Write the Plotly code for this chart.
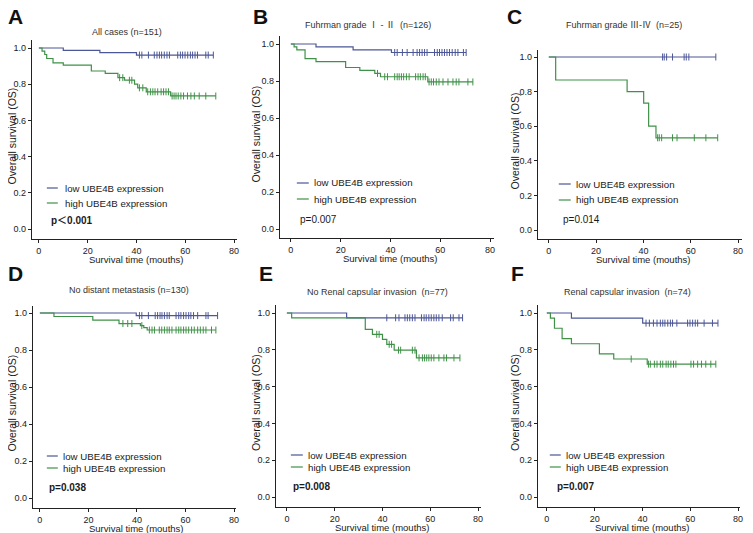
import numpy as np
import plotly.graph_objects as go

# The page body adds an 8px margin; the figure is sized and positioned to compensate.
OFF = 8
W, H = 753 - OFF, 533 - OFF

# ---------------- data ----------------
panel_letters = ["A", "B", "C", "D", "E", "F"]
panel_titles = [
    "All cases (n=151)",
    "Fuhrman grade \u2160 - \u2161\u00a0\u00a0(n=126)",
    "Fuhrman grade \u2162-\u2163\u00a0\u00a0(n=25)",
    "No distant metastasis (n=130)",
    "No Renal capsular invasion\u00a0\u00a0(n=77)",
    "Renal capsular invasion\u00a0\u00a0(n=74)",
]
p_texts = ["p\uff1c0.001", "p=0.007", "p=0.014", "p=0.038", "p=0.008", "p=0.007"]
p_bold = [True, False, False, True, True, True]
legend_labels = ["low UBE4B expression", "high UBE4B expression"]
x_ticks = [0, 20, 40, 60, 80]
y_ticks = [0.0, 0.2, 0.4, 0.6, 0.8, 1.0]
x_title = "Survival time (mouths)"
y_title = "Overall survival (OS)"

# Panel A
low_t_A = [0, 10, 25, 40]
low_s_A = [1.0, 0.987, 0.974, 0.961]
low_c_A = [41.2, 42.2, 44.9, 47.3, 48.4, 49.4, 50.3, 51.4, 52.5, 53.5, 56.9, 58.0, 58.9,
           59.9, 61.0, 62.1, 63.0, 64.0, 65.0, 68.4, 69.4, 71.5]
high_t_A = [0, 1.3, 2.4, 3.2, 5.8, 10, 21.5, 27.2, 32.4, 35.1, 39.2, 40.5, 44.0, 54.0]
high_s_A = [1.0, 0.983, 0.964, 0.942, 0.918, 0.905, 0.873, 0.860, 0.836, 0.822, 0.800,
            0.780, 0.758, 0.735]
high_c_A = [33.1, 34.4, 37.1, 38.1, 41.2, 42.6, 44.6, 45.7, 46.7, 47.6, 48.7, 50.1, 51.1,
            52.1, 53.1, 54.6, 55.4, 56.2, 57.1, 58.2, 59.3, 60.9, 62.3, 63.7, 65.7, 68.4, 72.5]

# Panel B
low_t_B = [0, 10.1, 25, 40.4]
low_s_B = [1.0, 0.984, 0.968, 0.954]
low_c_B = [41.7, 42.7, 44.8, 46.7, 49.1, 50.7, 51.7, 52.7, 53.7, 54.7, 57.7, 58.8, 59.7,
           60.7, 61.7, 62.7, 63.7, 64.8, 66.0, 67.1, 69.3, 70.4]
high_t_B = [0, 1.3, 2.4, 5.7, 10.1, 22.0, 27.7, 33.7, 36.0, 55.0]
high_s_B = [1.0, 0.984, 0.968, 0.921, 0.905, 0.873, 0.857, 0.841, 0.823, 0.795]
high_c_B = [34.8, 37.7, 38.8, 41.7, 42.7, 43.5, 44.4, 45.3, 46.4, 47.5, 50.1, 51.1, 52.0,
            53.1, 54.0, 55.5, 56.4, 57.3, 58.4, 59.5, 61.1, 63.1, 65.1, 66.4, 67.5, 71.1, 73.1]

# Panel C
low_t_C = [0]
low_s_C = [1.0]
low_c_C = [48.1, 48.8, 49.8, 52.3, 57.2, 58.1, 59.2, 70.6]
high_t_C = [0, 2.9, 33.1, 40.1, 42.2, 45.3]
high_s_C = [1.0, 0.867, 0.800, 0.733, 0.600, 0.533]
high_c_C = [46.0, 46.7, 47.7, 52.3, 54.2, 61.5, 66.4, 71.4]

# Panel D
low_t_D = [0, 39.7]
low_s_D = [1.0, 0.986]
low_c_D = [41.0, 42.0, 44.7, 47.5, 48.5, 49.5, 50.3, 51.3, 52.4, 53.3, 56.1, 57.2, 58.1,
           59.2, 60.2, 61.3, 62.2, 63.3, 65.0, 68.4, 69.3, 73.2]
high_t_D = [0, 5.8, 21.8, 32.6, 41.4, 42.8, 44.2]
high_s_D = [1.0, 0.981, 0.962, 0.943, 0.932, 0.921, 0.908]
high_c_D = [34.2, 36.2, 37.9, 42.0, 45.1, 46.2, 47.2, 49.2, 50.2, 51.3, 52.4, 53.3, 54.4,
            56.1, 57.2, 58.1, 59.2, 60.2, 61.3, 62.5, 63.6, 65.0, 66.1, 67.3, 68.4, 70.7, 72.5]

# Panel E
low_t_E = [0, 25]
low_s_E = [1.0, 0.974]
low_c_E = [41.8, 45.5, 46.9, 49.4, 50.4, 51.4, 52.5, 53.6, 56.3, 57.4, 58.3, 59.4, 60.4,
           61.5, 62.5, 63.6, 65.0, 68.5, 69.6, 72.0, 73.5]
high_t_E = [0, 2.0, 32.8, 35.8, 40.0, 41.8, 44.9, 54.2]
high_s_E = [1.0, 0.974, 0.911, 0.884, 0.857, 0.830, 0.798, 0.756]
high_c_E = [37.6, 38.6, 42.8, 43.8, 46.7, 47.6, 52.5, 53.6, 55.3, 56.7, 57.6, 58.5, 59.4,
            60.4, 61.5, 63.6, 65.7, 66.8, 69.9, 72.4]

# Panel F
low_t_F = [0, 10.3, 40.1]
low_s_F = [1.0, 0.972, 0.945]
low_c_F = [41.5, 42.9, 44.6, 46.1, 47.5, 48.5, 49.4, 50.6, 51.7, 52.6, 54.4, 58.9, 59.9,
           61.0, 62.1, 63.1, 65.8, 69.3, 71.6]
high_t_F = [0, 1.5, 3.2, 6.4, 10.3, 22.0, 28.0, 42.0]
high_s_F = [1.0, 0.972, 0.917, 0.861, 0.833, 0.778, 0.750, 0.722]
high_c_F = [35.3, 42.5, 43.3, 45.0, 46.1, 47.5, 48.5, 49.9, 50.8, 51.9, 53.0, 54.0, 60.3,
            61.4, 63.1, 64.7, 66.5, 68.6, 70.7]

low_times = [low_t_A, low_t_B, low_t_C, low_t_D, low_t_E, low_t_F]
low_survs = [low_s_A, low_s_B, low_s_C, low_s_D, low_s_E, low_s_F]
low_cens = [low_c_A, low_c_B, low_c_C, low_c_D, low_c_E, low_c_F]
high_times = [high_t_A, high_t_B, high_t_C, high_t_D, high_t_E, high_t_F]
high_survs = [high_s_A, high_s_B, high_s_C, high_s_D, high_s_E, high_s_F]
high_cens = [high_c_A, high_c_B, high_c_C, high_c_D, high_c_E, high_c_F]

# ---------------- layout geometry (screen pixels) ----------------
geo = [
    dict(l=32, r=238, t=40, b=239, x0=39, x80=235, y1=48, y0=229),
    dict(l=281, r=496, t=36, b=238, x0=292, x80=492, y1=44, y0=229),
    dict(l=540, r=745, t=50, b=239, x0=551, x80=741, y1=57, y0=230),
    dict(l=33, r=237, t=306, b=508, x0=40, x80=235, y1=313, y0=498),
    dict(l=277, r=483, t=305, b=507, x0=288, x80=480, y1=313, y0=497),
    dict(l=540, r=743, t=305, b=507, x0=549, x80=741, y1=313, y0=497),
]
legend_pos = [
    dict(lx0=47, lx1=58, tx=63, y1=188, y2=203, px=49, py=220),
    dict(lx0=298, lx1=310, tx=313, y1=183, y2=199, px=299, py=219),
    dict(lx0=561, lx1=573, tx=576, y1=184, y2=200, px=563, py=219),
    dict(lx0=47, lx1=58, tx=61, y1=456, y2=468, px=47, py=487),
    dict(lx0=292, lx1=304, tx=307, y1=455, y2=467, px=292, py=486),
    dict(lx0=552, lx1=563, tx=566, y1=455, y2=467, px=557, py=486),
]
title_pos = [(127, 32), (369, 25), (626, 25), (129, 290), (379, 292), (630, 292)]
letter_pos = [(16, 17), (262, 17), (517, 17), (16, 273), (267, 273), (520, 273)]
ytitle_x = [12, 257, 517, 12, 257, 517]

BLUE = "#4c5797"
GREEN = "#3f9147"
TXT = "#1a1a1a"
FONT = "Liberation Sans, Arial, sans-serif"


def px_x(p):
    return (p - OFF) / W


def px_y(p):
    return 1 - (p - OFF) / H


def step_value(times, survs, t):
    idx = np.searchsorted(np.asarray(times), t, side="right") - 1
    return float(np.asarray(survs)[idx])


fig = go.Figure()
shapes = []
annotations = []

for i in range(6):
    g = geo[i]
    ax = "" if i == 0 else str(i + 1)
    xref, yref = "x" + ax, "y" + ax
    ppx = (g["x80"] - g["x0"]) / 80.0
    ppy = (g["y0"] - g["y1"]) / 1.0
    xr = [(g["l"] - g["x0"]) / ppx, (g["r"] - g["x0"]) / ppx]
    yr = [(g["y0"] - g["b"]) / ppy, (g["y0"] - g["t"]) / ppy]

    for times, survs, cens, col, name in [
        (low_times[i], low_survs[i], low_cens[i], BLUE, legend_labels[0]),
        (high_times[i], high_survs[i], high_cens[i], GREEN, legend_labels[1]),
    ]:
        end_t = max(cens)
        xs = list(times) + [end_t]
        ys = list(survs) + [survs[-1]]
        fig.add_trace(go.Scatter(
            x=xs, y=ys, mode="lines", line=dict(color=col, width=1.2, shape="hv"),
            xaxis=xref, yaxis=yref, showlegend=False, name=name, hoverinfo="skip"))
        cy = [step_value(times, survs, t) for t in cens]
        fig.add_trace(go.Scatter(
            x=cens, y=cy, mode="markers",
            marker=dict(symbol="line-ns", size=5, line=dict(width=1, color=col)),
            xaxis=xref, yaxis=yref, showlegend=False, name=name, hoverinfo="skip"))

    axis_common = dict(
        showline=True, linecolor="#222", linewidth=1, ticks="outside", ticklen=3,
        tickcolor="#222", tickwidth=1, showgrid=False, zeroline=False,
        tickfont=dict(family=FONT, size=9, color=TXT),
    )
    fig.layout["xaxis" + ax] = dict(
        axis_common, domain=[px_x(g["l"]), px_x(g["r"])], range=xr,
        tickvals=x_ticks, anchor=yref, fixedrange=True)
    fig.layout["yaxis" + ax] = dict(
        axis_common, domain=[px_y(g["b"]), px_y(g["t"])], range=yr,
        tickvals=y_ticks, tickformat=".1f", anchor=xref, fixedrange=True)

    # axis titles
    annotations.append(dict(
        text=x_title, x=40, xref=xref, y=px_y(g["b"] + 20), yref="paper",
        showarrow=False, xanchor="center", yanchor="middle",
        font=dict(family=FONT, size=9.5, color=TXT)))
    annotations.append(dict(
        text=y_title, x=px_x(ytitle_x[i]), xref="paper",
        y=px_y((g["y0"] + g["y1"]) / 2 - 3), yref="paper", textangle=-90,
        showarrow=False, xanchor="center", yanchor="middle",
        font=dict(family=FONT, size=10.5, color=TXT)))

    # panel title and letter
    tx, ty = title_pos[i]
    annotations.append(dict(
        text=panel_titles[i], x=px_x(tx), y=px_y(ty), xref="paper", yref="paper",
        showarrow=False, xanchor="center", yanchor="middle",
        font=dict(family=FONT + ", Noto Sans CJK SC", size=9, color="#333")))
    lx, ly = letter_pos[i]
    annotations.append(dict(
        text="<b>%s</b>" % panel_letters[i], x=px_x(lx), y=px_y(ly),
        xref="paper", yref="paper", showarrow=False, xanchor="center",
        yanchor="middle", font=dict(family=FONT, size=21, color="#111")))

    # legend
    lp = legend_pos[i]
    for yy, col, lab in [(lp["y1"], BLUE, legend_labels[0]), (lp["y2"], GREEN, legend_labels[1])]:
        shapes.append(dict(type="line", xref="paper", yref="paper",
                           x0=px_x(lp["lx0"]), x1=px_x(lp["lx1"]),
                           y0=px_y(yy), y1=px_y(yy), line=dict(color=col, width=1.2)))
        annotations.append(dict(
            text=lab, x=px_x(lp["tx"]), y=px_y(yy), xref="paper", yref="paper",
            showarrow=False, xanchor="left", yanchor="middle",
            font=dict(family=FONT, size=9.7, color=TXT)))
    ptxt = "<b>%s</b>" % p_texts[i] if p_bold[i] else p_texts[i]
    annotations.append(dict(
        text=ptxt, x=px_x(lp["px"]), y=px_y(lp["py"]), xref="paper", yref="paper",
        showarrow=False, xanchor="left", yanchor="middle",
        font=dict(family=FONT + ", Noto Sans CJK SC", size=10, color=TXT)))

fig.update_layout(
    width=W, height=H, margin=dict(l=0, r=0, t=0, b=0),
    paper_bgcolor="white", plot_bgcolor="white", showlegend=False,
    shapes=shapes, annotations=annotations,
)

fig.write_html("out.html")
